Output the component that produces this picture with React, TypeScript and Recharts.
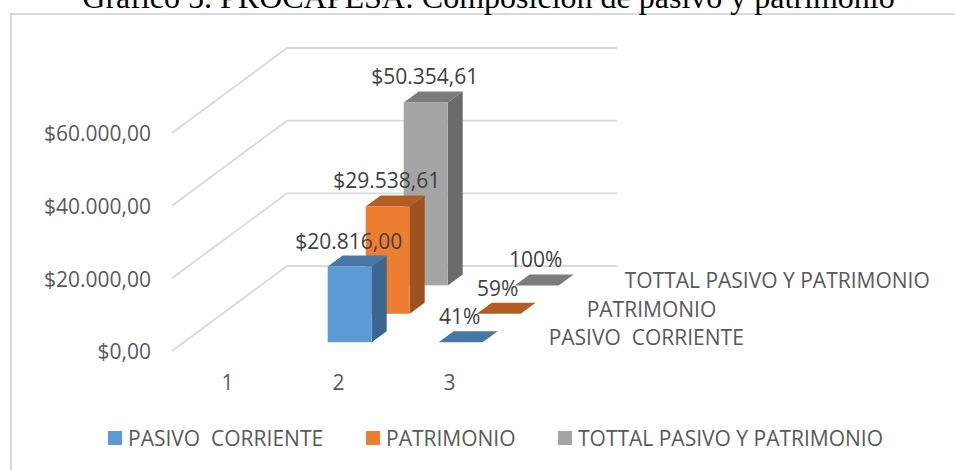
import { BarChart, Bar, XAxis, YAxis, CartesianGrid, Legend } from 'recharts'

const categories = ['1', '2', '3']
const pasivoCorriente = [null, 20816, 0.41]
const patrimonio = [null, 29538.61, 0.59]
const totalPasivoPatrimonio = [null, 50354.61, 1]
const yTicks = [0, 20000, 40000, 60000]

const seriesNames = ['PASIVO  CORRIENTE', 'PATRIMONIO', 'TOTTAL PASIVO Y PATRIMONIO']
const frontColors = ['#5b9bd5', '#ed7d31', '#a5a5a5']
const topColors = ['#4677a5', '#b35d22', '#7c7c7c']
const sideColors = ['#3a6690', '#9c531f', '#6b6b6b']

const chartData = categories.map((c, i) => ({
  category: c,
  pasivo: pasivoCorriente[i],
  patrimonio: patrimonio[i],
  total: totalPasivoPatrimonio[i],
}))

const uiFont = '"Open Sans", sans-serif'
const uiSize = 21

// fake 3d: one depth slot per series
const slotDx = 38
const slotDy = -28.4
const insetDx = 10.7
const insetDy = -8.8
const barDx = 15
const barDy = -11

const formatMoney = (v: number) =>
  '$' +
  Math.floor(v).toString().replace(/\B(?=(\d{3})+$)/g, '.') +
  ',' +
  v.toFixed(2).split('.')[1]

const formatLabel = (v: number) => (v <= 1 ? Math.round(v * 100) + '%' : formatMoney(v))

function Bar3D(props: any) {
  const { x, y, width, height, value, series, payload } = props
  const raw = Array.isArray(value) ? value[1] : value
  if (raw == null) return null
  const ox = x + insetDx + slotDx * series
  const oy = y + insetDy + slotDy * series
  const left = ox
  const right = ox + width
  const bottom = oy + height
  const isLast = payload && payload.category === categories[categories.length - 1]
  return (
    <g>
      <polygon
        points={`${right},${oy} ${right + barDx},${oy + barDy} ${right + barDx},${bottom + barDy} ${right},${bottom}`}
        fill={sideColors[series]}
      />
      <polygon
        points={`${left},${oy} ${left + barDx},${oy + barDy} ${right + barDx},${oy + barDy} ${right},${oy}`}
        fill={topColors[series]}
      />
      <rect x={left} y={oy} width={width} height={height} fill={frontColors[series]} />
      <text x={left + width / 2 - 1} y={oy - 18} textAnchor="middle" fontSize={uiSize} fontFamily={uiFont} fill="#404040">
        {formatLabel(raw)}
      </text>
      {isLast && (
        <text x={left + 110} y={oy + 3} fontSize={uiSize} fontFamily={uiFont} fill="#595959" style={{ whiteSpace: 'pre' }}>
          {seriesNames[series]}
        </text>
      )}
    </g>
  )
}

function WallLine(props: any) {
  const { x1, y1 } = props
  return (
    <polyline
      points={`${x1},${y1} ${x1 + 115},${y1 - 85} 617,${y1 - 85}`}
      fill="none"
      stroke="#d9d9d9"
      strokeWidth={1.8}
    />
  )
}

const legendLeft = [108, 366, 558]

function LegendRow() {
  return (
    <div style={{ position: 'relative', height: 28, width: 955 }}>
      {seriesNames.map((name, i) => (
        <div
          key={name}
          style={{ position: 'absolute', left: legendLeft[i], top: 0, display: 'flex', alignItems: 'center', whiteSpace: 'pre' }}
        >
          <span style={{ width: 14, height: 14, background: frontColors[i], marginRight: 6 }} />
          <span style={{ fontFamily: uiFont, fontSize: uiSize, color: '#595959' }}>{name}</span>
        </div>
      ))}
    </div>
  )
}

export default function App() {
  return (
    <div style={{ position: 'absolute', left: 0, top: 0, width: 955, height: 470, overflow: 'hidden', background: '#fff' }}>
      <div
        style={{
          position: 'absolute',
          left: 10,
          top: 13,
          width: 1000,
          height: 520,
          border: '2px solid #d9d9d9',
          boxSizing: 'border-box',
        }}
      />
      <div
        style={{
          position: 'absolute',
          left: 0,
          width: 977,
          top: -21,
          textAlign: 'center',
          fontFamily: '"Liberation Serif", serif',
          fontSize: 32,
          color: '#000',
          whiteSpace: 'nowrap',
        }}
      >
        Gráfico 5. PROCAPESA: Composición de pasivo y patrimonio
      </div>
      <BarChart
        width={955}
        height={470}
        data={chartData}
        barSize={44}
        barGap={-44}
        margin={{ top: 133, right: 450, bottom: 89, left: 0 }}
        style={{ position: 'absolute', left: 0, top: 0 }}
      >
        <CartesianGrid vertical={false} horizontal={(p: any) => <WallLine key={p.key} {...p} />} />
        <XAxis
          dataKey="category"
          axisLine={false}
          tickLine={false}
          height={30}
          tickMargin={18}
          tick={{ fill: '#595959', fontSize: uiSize, fontFamily: uiFont }}
        />
        <YAxis
          width={172}
          domain={[0, 60000]}
          ticks={yTicks}
          tickFormatter={formatMoney}
          axisLine={false}
          tickLine={false}
          tickMargin={15}
          tick={{ fill: '#595959', fontSize: uiSize, fontFamily: uiFont, dy: 1 }}
        />
        <Legend verticalAlign="middle" content={<LegendRow />} wrapperStyle={{ top: 424, left: 0, width: 955 }} />
        <Bar dataKey="total" name={seriesNames[2]} isAnimationActive={false} shape={(p: any) => <Bar3D {...p} series={2} />} />
        <Bar dataKey="patrimonio" name={seriesNames[1]} isAnimationActive={false} shape={(p: any) => <Bar3D {...p} series={1} />} />
        <Bar dataKey="pasivo" name={seriesNames[0]} isAnimationActive={false} shape={(p: any) => <Bar3D {...p} series={0} />} />
      </BarChart>
    </div>
  )
}
